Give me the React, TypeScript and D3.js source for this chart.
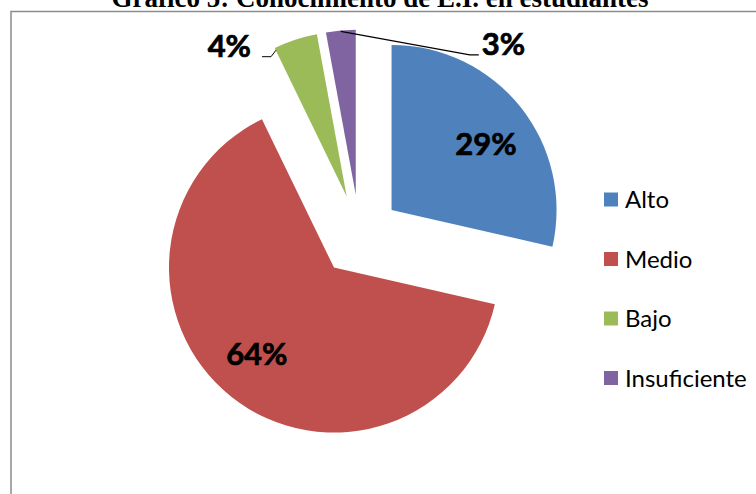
import React from "react";
import * as d3 from "d3";

const categories = ["Alto", "Medio", "Bajo", "Insuficiente"];
const values = [28.6, 64.3, 4.3, 2.9];
const colors = ["#4F81BD", "#C0504D", "#9BBB59", "#8064A2"];
const title = "Gráfico 5: Conocimiento de E.I. en estudiantes";

const W = 756;
const H = 494;
const CX = 359.5;
const CY = 235.5;
const R = 165;
const EXPLODE = 41;
const LABEL_R = 0.7;
const LABEL_ROT = 0.06; // radians, label placement rotation

const labelFont = "Lato, 'Open Sans', sans-serif";

export default function App() {
  const total = d3.sum(values);
  const pie = d3.pie<number>().sort(null).startAngle(0).endAngle(2 * Math.PI);
  const arcs = pie(values);
  const arc = d3.arc<d3.PieArcDatum<number>>().innerRadius(0).outerRadius(R);

  const offset = (a: d3.PieArcDatum<number>) => {
    const m = (a.startAngle + a.endAngle) / 2;
    return [EXPLODE * Math.sin(m), -EXPLODE * Math.cos(m)];
  };
  const polar = (ang: number, r: number) => [r * Math.sin(ang), -r * Math.cos(ang)];
  const pct = (v: number) => `${Math.round((v / total) * 100)}%`;

  const legendY = d3.scalePoint<string>().domain(categories).range([199.5, 378]);

  const boldText = {
    fontFamily: labelFont,
    fontWeight: "bold" as const,
    fontSize: 31,
    fill: "#000",
    stroke: "#000",
    strokeWidth: 0.7,
  };

  return (
    <svg width={W} height={H} style={{ position: "absolute", left: 0, top: 0, background: "#fff" }}>
      <text
        x={380}
        y={7}
        textAnchor="middle"
        fontFamily="'Liberation Serif', 'Times New Roman', serif"
        fontWeight="bold"
        fontSize={27}
        fill="#000"
      >
        {title}
      </text>
      <path d={`M11,${H + 5} L11,11.5 L${W + 5},11.5`} fill="none" stroke="#8c8c8c" strokeWidth={1.5} />
      <g transform={`translate(${CX},${CY})`}>
        {arcs.map((a, i) => {
          const [ox, oy] = offset(a);
          return (
            <g key={categories[i]} transform={`translate(${ox},${oy})`}>
              <path d={arc(a) || ""} fill={colors[i]} />
            </g>
          );
        })}
        {arcs.map((a, i) => {
          const [ox, oy] = offset(a);
          const big = a.endAngle - a.startAngle > 0.5;
          if (big) {
            const m = (a.startAngle + a.endAngle) / 2 + LABEL_ROT;
            const [lx, ly] = polar(m, R * LABEL_R);
            return (
              <text key={"l" + i} x={lx + ox} y={ly + oy} dy="0.36em" textAnchor="middle" {...boldText}>
                {pct(a.value)}
              </text>
            );
          }
          return null;
        })}
        {(() => {
          const a = arcs[2];
          const [ox, oy] = offset(a);
          const [px, py] = polar(a.startAngle + 0.01, R - 2);
          const p0 = [px + ox - 1, py + oy + 1];
          const p1 = [p0[0] - 5, p0[1] + 6.5];
          const p2 = [p1[0] - 9, p1[1]];
          return (
            <g>
              <polyline
                points={`${p0[0]},${p0[1]} ${p1[0]},${p1[1]} ${p2[0]},${p2[1]}`}
                fill="none"
                stroke="#000"
                strokeWidth={1}
              />
              <text x={p2[0] - 11} y={p2[1]} textAnchor="end" {...boldText}>
                {pct(a.value)}
              </text>
            </g>
          );
        })()}
        {(() => {
          const a = arcs[3];
          const [ox, oy] = offset(a);
          const m = (a.startAngle + a.endAngle) / 2;
          const [px, py] = polar(m, R);
          const p0 = [px + ox, py + oy + 1];
          const p1 = [p0[0] + 129, p0[1] + 23.5];
          const p2 = [p1[0] + 9, p1[1]];
          return (
            <g>
              <polyline
                points={`${p0[0]},${p0[1]} ${p1[0]},${p1[1]} ${p2[0]},${p2[1]}`}
                fill="none"
                stroke="#000"
                strokeWidth={1.2}
              />
              <text x={p2[0] + 3} y={p2[1]} textAnchor="start" {...boldText}>
                {pct(a.value)}
              </text>
            </g>
          );
        })()}
      </g>
      <g>
        {categories.map((c, i) => {
          const y = legendY(c) as number;
          return (
            <g key={c}>
              <rect x={604} y={y - 7} width={14} height={14} fill={colors[i]} />
              <text x={625} y={y} dy="0.36em" fontFamily={labelFont} fontSize={24} fill="#000">
                {c}
              </text>
            </g>
          );
        })}
      </g>
    </svg>
  );
}
